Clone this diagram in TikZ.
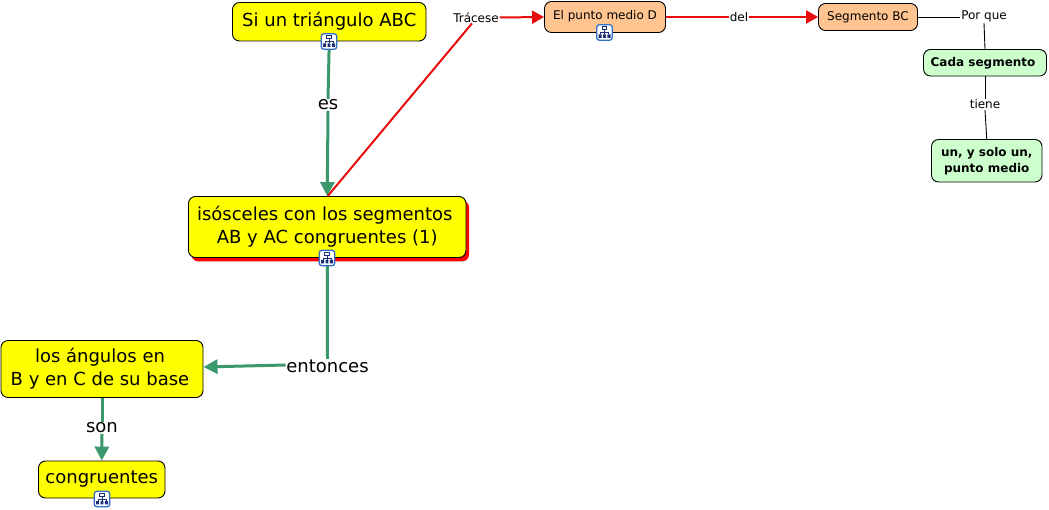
\documentclass[tikz,border=0pt]{standalone}
\usepackage{fontspec}
\setmainfont{DejaVu Sans}
\usetikzlibrary{arrows.meta,shadows}
\definecolor{cmyellow}{RGB}{255,255,0}
\definecolor{cmgreen}{RGB}{58,152,108}
\definecolor{cmred}{RGB}{232,12,12}
\definecolor{cmshadow}{RGB}{255,0,0}
\definecolor{cmorange}{RGB}{255,196,144}
\definecolor{cmmint}{RGB}{204,255,204}
\definecolor{cmblue}{RGB}{50,110,200}
\definecolor{cmnavy}{RGB}{25,45,120}
\tikzset{
  x=1pt,y=-1pt,
  cbox/.style={draw=black,line width=0.9pt,rounded corners=7pt,inner sep=0pt,align=center,text=black},
  yellowbox/.style={cbox,fill=cmyellow,font=\fontsize{18}{23}\selectfont},
  orangebox/.style={cbox,fill=cmorange,font=\fontsize{12}{14}\selectfont},
  mintbox/.style={cbox,fill=cmmint,draw=black,font=\bfseries\fontsize{12}{16}\selectfont},
  biglabel/.style={fill=white,inner sep=0.6pt,text=black,font=\fontsize{18}{20}\selectfont},
  smalllabel/.style={fill=white,inner sep=0.8pt,text=black,font=\fontsize{12}{13}\selectfont},
  greenline/.style={draw=cmgreen,line width=3pt},
  greenarrow/.style={greenline,-{Triangle[length=14pt,width=14pt]}},
  redline/.style={draw=cmred,line width=2pt},
  redarrow/.style={redline,-{Triangle[length=12pt,width=13pt]}},
  thinline/.style={draw=black,line width=0.9pt},
  icon/.pic={
    \draw[draw=cmblue,fill=white,line width=1.3pt,rounded corners=2.5pt] (-7.7,-7.7) rectangle (7.7,7.7);
    \draw[draw=cmnavy,line width=0.8pt] (0,-3) -- (0,0) (-4,2) -- (-4,0) -- (4,0) -- (4,2) (0,0) -- (0,2);
    \draw[draw=cmnavy,fill=white,line width=0.8pt] (-2.2,-5.8) rectangle (2.2,-2.6);
    \fill[cmnavy] (-6,2) rectangle (-2.8,5.4) (-1.4,2) rectangle (1.4,5.4) (2.8,2) rectangle (6,5.4);
  }
}
\begin{document}
\begin{tikzpicture}
\useasboundingbox (0,0) rectangle (1049,510);
\fill[white] (0,0) rectangle (1049,510);

% concepts
\node[yellowbox,minimum width=193.5pt,minimum height=38.5pt] (A) at (329.25,21.75) {\raisebox{5pt}{Si un triángulo ABC}};
\node[yellowbox,minimum width=277.5pt,minimum height=61pt,drop shadow={shadow xshift=3pt,shadow yshift=-4pt,fill=cmshadow,opacity=1}] (B) at (327.25,227) {\raisebox{2.5pt}{\hspace*{-5pt}isósceles con los segmentos}\\\raisebox{2.5pt}{AB y AC congruentes (1)}};
\node[yellowbox,minimum width=202pt,minimum height=57pt] (C) at (102,369) {\hspace*{-4pt}los ángulos en\\\hspace*{-4pt}B y en C de su base};
\node[yellowbox,minimum width=126.5pt,minimum height=37pt] (D) at (101.75,479.5) {\raisebox{4pt}{congruentes}};
\node[orangebox,minimum width=121pt,minimum height=31pt] (E) at (605,17) {\raisebox{4pt}{El punto medio D}};
\node[orangebox,minimum width=99pt,minimum height=27pt] (F) at (868,17) {\raisebox{1pt}{Segmento BC}};
\node[mintbox,minimum width=123pt,minimum height=26.5pt] (G) at (985,62.75) {\hspace*{-4pt}Cada segmento};
\node[mintbox,minimum width=110.5pt,minimum height=42.5pt] (H) at (986.75,160.75) {un, y solo un,\\punto medio};

% linking phrases
\node[biglabel] (es) at (328,105) {es};
\node[biglabel] (ent) at (327.5,366) {entonces};
\node[biglabel] (son) at (102,428) {son};
\node[smalllabel] (tr) at (476,17.5) {Trácese};
\node[smalllabel] (del) at (739,17) {del};
\node[smalllabel] (pq) at (984,16.5) {Por que};
\node[smalllabel] (ti) at (985,104.5) {tiene};

% connectors
\draw[greenline] (A.south) -- (es.north);
\draw[greenarrow] (es.south) -- (B.north);
\draw[redline] ([xshift=0.5pt]B.north) -- ([xshift=-4pt]tr.south);
\draw[greenline] (B.south) -- (ent.north);
\draw[greenarrow] ([yshift=1pt]ent.west) -- ([yshift=2pt]C.east);
\draw[greenline] (C.south) -- (son.north);
\draw[greenarrow] (son.south) -- (D.north);
\draw[redarrow] (tr.east) -- (E.west);
\draw[redline] (E.east) -- (del.west);
\draw[redarrow] (del.east) -- (F.west);
\draw[thinline] (F.east) -- ([yshift=-0.5pt]pq.west);
\draw[thinline] (pq.south) -- (G.north);
\draw[thinline] (G.south) -- (ti.north);
\draw[thinline] (ti.south) -- (H.north);

% resource icons
\pic at (329,41.5) {icon};
\pic at (327,258) {icon};
\pic at (604.5,32.5) {icon};
\pic at (102,499) {icon};
\end{tikzpicture}
\end{document}
